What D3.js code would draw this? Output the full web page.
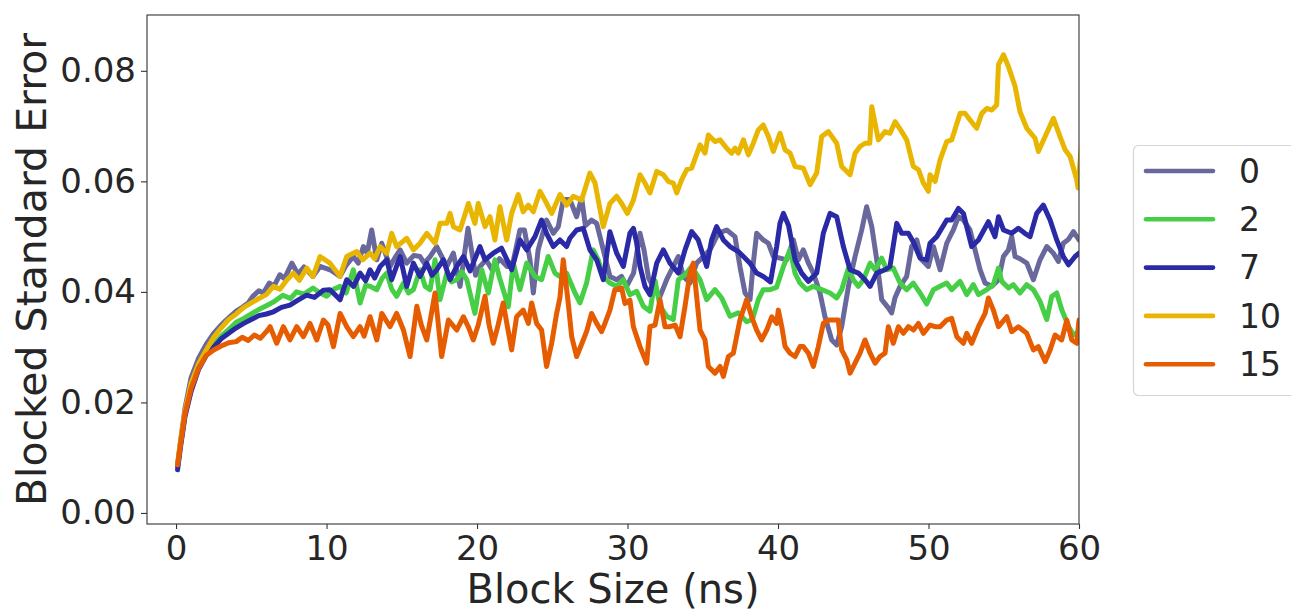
<!DOCTYPE html>
<html>
<head>
<meta charset="utf-8">
<script src="https://cdn.jsdelivr.net/npm/d3@7"></script>
<style>
  body { margin: 0; background: #fff; }
  svg text { font-family: "DejaVu Sans", sans-serif; fill: #262626; }
</style>
</head>
<body>
<svg width="1291" height="611"></svg>
<script>
// series labels and colours (legend order)
labels = ['0', '2', '7', '10', '15']
colors = ['#68689c', '#46cf46', '#2a2aa6', '#e8b500', '#e65c00']

xTicks = [0, 10, 20, 30, 40, 50, 60]
yTicks = [0, 0.02, 0.04, 0.06, 0.08]

// [block size (ns), blocked standard error]
err0 = [[0.1,0.0085],[0.3,0.013],[0.6,0.019],[1.0,0.0245],[1.5,0.028],[2.0,0.0305],[2.5,0.0325],[3.0,0.034],[3.3,0.0348],[3.7,0.0358],[4.0,0.0365],[4.4,0.0372],[4.8,0.038],[5.1,0.0392],[5.5,0.0402],[5.8,0.0398],[6.2,0.0416],[6.5,0.041],[6.9,0.0431],[7.2,0.0424],[7.7,0.0452],[8.1,0.0432],[8.5,0.0445],[9.1,0.0428],[9.57,0.0446],[10.23,0.044],[10.9,0.0428],[11.3,0.0448],[11.78,0.0464],[12.1,0.0452],[12.45,0.0482],[12.7,0.047],[13.0,0.0512],[13.34,0.0458],[13.67,0.0488],[14.22,0.0446],[14.55,0.0462],[14.89,0.0476],[15.33,0.0452],[15.8,0.0466],[16.21,0.0464],[16.5,0.0452],[16.88,0.0464],[17.32,0.0482],[17.99,0.0446],[18.43,0.047],[18.87,0.041],[19.4,0.0515],[19.9,0.043],[20.2,0.0446],[20.6,0.0458],[21.0,0.044],[21.5,0.046],[22.0,0.0446],[22.4,0.0455],[22.85,0.0512],[23.15,0.0512],[23.52,0.0458],[23.74,0.0398],[24.06,0.0476],[24.62,0.053],[25.07,0.0506],[25.4,0.0518],[25.73,0.0567],[26.17,0.0567],[26.62,0.0536],[26.95,0.057],[27.2,0.052],[27.61,0.053],[27.95,0.0524],[28.39,0.0476],[28.83,0.0428],[29.28,0.0422],[29.6,0.0428],[29.94,0.041],[30.4,0.0434],[30.83,0.0506],[31.1,0.0475],[31.4,0.0425],[31.71,0.0409],[32.16,0.0392],[32.6,0.0422],[33.04,0.0446],[33.38,0.0464],[33.71,0.0428],[34.15,0.0416],[34.59,0.0452],[35.04,0.0464],[35.48,0.0476],[36.03,0.0506],[36.59,0.0512],[37.14,0.05],[37.47,0.0446],[37.81,0.0398],[38.14,0.0386],[38.35,0.045],[38.58,0.0506],[39.02,0.0494],[39.36,0.0488],[39.69,0.0464],[40.13,0.0461],[40.58,0.0458],[41.02,0.0494],[41.35,0.0458],[41.68,0.0476],[42.02,0.0452],[42.35,0.0434],[42.79,0.0398],[43.12,0.0355],[43.57,0.0313],[43.9,0.0304],[44.23,0.0337],[44.68,0.041],[45.12,0.0464],[45.56,0.0512],[45.89,0.0554],[46.23,0.0518],[46.56,0.0458],[46.89,0.0386],[47.33,0.0371],[47.55,0.0362],[47.78,0.039],[48.11,0.041],[48.55,0.0428],[48.88,0.0482],[49.22,0.0494],[49.55,0.0458],[49.99,0.0446],[50.33,0.0482],[50.77,0.044],[51.21,0.0488],[51.65,0.0512],[51.99,0.0536],[52.32,0.053],[52.76,0.0512],[53.09,0.0476],[53.43,0.044],[53.76,0.0416],[54.2,0.041],[54.65,0.0422],[54.98,0.0464],[55.31,0.0476],[55.53,0.05],[55.75,0.0464],[56.08,0.046],[56.53,0.0452],[56.97,0.0422],[57.41,0.0458],[57.86,0.0482],[58.3,0.047],[58.63,0.0455],[58.96,0.0488],[59.3,0.0495],[59.63,0.0509],[60,0.0494]]

err2 = [[0.1,0.0085],[0.3,0.0125],[0.6,0.018],[1.0,0.023],[1.5,0.0265],[2.0,0.029],[2.5,0.0305],[3.0,0.032],[3.5,0.0332],[4.0,0.0345],[4.5,0.0352],[5.0,0.036],[5.5,0.0368],[6.0,0.0375],[6.5,0.0382],[7.1,0.0394],[7.6,0.0388],[8.0,0.04],[8.5,0.0396],[9.1,0.0407],[9.57,0.0398],[10.01,0.0392],[10.5,0.0405],[10.9,0.041],[11.3,0.0398],[11.78,0.044],[12.23,0.038],[12.6,0.0412],[12.89,0.041],[13.34,0.0404],[13.7,0.0425],[14.0,0.0434],[14.33,0.0405],[14.66,0.0392],[15.11,0.0416],[15.45,0.0398],[15.77,0.0404],[16.21,0.044],[16.55,0.041],[16.88,0.0404],[17.21,0.0458],[17.54,0.0386],[17.99,0.0434],[18.3,0.0418],[18.65,0.0422],[19.0,0.0436],[19.32,0.0422],[19.6,0.039],[19.86,0.0361],[20.31,0.044],[20.75,0.0398],[21.19,0.0458],[21.5,0.0425],[21.74,0.0404],[22.08,0.0373],[22.41,0.0452],[22.85,0.0404],[23.3,0.0452],[23.85,0.0428],[24.29,0.0422],[24.73,0.0464],[25.18,0.0434],[25.5,0.0428],[25.95,0.0434],[26.51,0.0398],[26.84,0.038],[27.28,0.0416],[27.72,0.0476],[28.05,0.0458],[28.39,0.0428],[28.83,0.0416],[29.28,0.041],[29.72,0.0422],[30.16,0.0395],[30.61,0.0401],[31.05,0.0374],[31.49,0.0365],[31.83,0.042],[32.16,0.0374],[32.6,0.0356],[33.04,0.035],[33.38,0.0422],[33.82,0.0431],[34.26,0.0446],[34.82,0.0422],[35.26,0.0386],[35.81,0.0404],[36.26,0.0389],[36.81,0.0356],[37.36,0.0362],[37.92,0.0346],[38.3,0.035],[38.69,0.0386],[39.02,0.0404],[39.47,0.0404],[39.9,0.0408],[40.36,0.0446],[40.8,0.0476],[41.13,0.0434],[41.46,0.0416],[41.91,0.0404],[42.35,0.041],[42.9,0.0404],[43.46,0.0398],[43.9,0.0389],[44.23,0.0404],[44.68,0.0443],[45.0,0.0422],[45.34,0.041],[45.67,0.0422],[46.12,0.0452],[46.45,0.044],[46.89,0.0461],[47.22,0.044],[47.66,0.0443],[48.11,0.0416],[48.55,0.0404],[48.99,0.0416],[49.44,0.0398],[49.88,0.0378],[50.33,0.0404],[50.77,0.041],[51.21,0.0416],[51.54,0.0404],[52.1,0.0419],[52.54,0.0395],[52.98,0.0413],[53.32,0.0395],[53.87,0.0404],[54.3,0.0413],[54.65,0.0443],[54.87,0.0419],[55.31,0.0407],[55.64,0.0413],[56.08,0.0398],[56.53,0.0413],[56.97,0.0404],[57.41,0.0383],[57.86,0.035],[58.19,0.0392],[58.52,0.0398],[58.85,0.0368],[59.3,0.0338],[59.63,0.0322],[60,0.0328]]

err7 = [[0.1,0.0078],[0.3,0.012],[0.6,0.0175],[1.0,0.022],[1.5,0.026],[2.0,0.0285],[2.5,0.03],[3.0,0.0315],[3.5,0.0325],[4.0,0.0335],[4.5,0.0343],[5.0,0.035],[5.5,0.0357],[6.0,0.036],[6.47,0.0364],[7.0,0.0372],[7.57,0.0376],[8.1,0.0385],[8.68,0.0394],[9.2,0.039],[9.79,0.0403],[10.23,0.0404],[10.9,0.0386],[11.34,0.0422],[11.8,0.041],[12.23,0.0434],[12.6,0.042],[12.89,0.044],[13.2,0.0425],[13.56,0.0446],[14.0,0.0458],[14.33,0.0422],[14.89,0.0464],[15.33,0.041],[15.77,0.0452],[16.21,0.0428],[16.66,0.0452],[17.0,0.043],[17.32,0.044],[17.76,0.0458],[18.21,0.0422],[18.65,0.0446],[19.1,0.0464],[19.54,0.0438],[20.19,0.0482],[20.53,0.0458],[21.08,0.047],[21.63,0.0479],[22.3,0.044],[22.85,0.0494],[23.3,0.0476],[23.85,0.05],[24.29,0.053],[24.62,0.0506],[25.07,0.0482],[25.51,0.0494],[25.95,0.0482],[26.17,0.0497],[26.62,0.0512],[27.06,0.0515],[27.5,0.0476],[27.95,0.0458],[28.39,0.0422],[28.83,0.0509],[29.28,0.047],[29.72,0.0446],[30.16,0.0506],[30.39,0.0515],[30.6,0.049],[30.83,0.0446],[31.16,0.041],[31.49,0.0395],[31.94,0.0452],[32.38,0.0476],[32.82,0.0452],[33.38,0.0434],[33.82,0.0476],[34.26,0.0509],[34.7,0.0494],[35.26,0.0446],[35.59,0.0494],[35.92,0.0518],[36.37,0.0494],[36.81,0.0482],[37.36,0.0473],[37.7,0.0464],[38.14,0.0452],[38.58,0.0434],[39.02,0.0428],[39.5,0.0418],[39.91,0.0482],[40.13,0.0524],[40.36,0.0542],[40.7,0.052],[41.13,0.0458],[41.57,0.0434],[42.02,0.0419],[42.57,0.0434],[43.01,0.0506],[43.46,0.0542],[43.9,0.0536],[44.34,0.0482],[44.79,0.044],[45.34,0.0434],[45.78,0.0422],[46.12,0.041],[46.56,0.0434],[47.11,0.044],[47.44,0.0446],[47.89,0.0524],[48.22,0.0506],[48.66,0.0506],[49.0,0.049],[49.44,0.0461],[49.88,0.0458],[50.1,0.0488],[50.55,0.05],[51.21,0.053],[51.54,0.053],[51.99,0.0551],[52.32,0.0542],[52.87,0.0482],[53.32,0.0494],[53.98,0.0527],[54.42,0.05],[54.65,0.0536],[54.98,0.0512],[55.53,0.0506],[55.97,0.0515],[56.4,0.0506],[56.75,0.05],[57.19,0.0542],[57.63,0.0557],[58.08,0.053],[58.52,0.0494],[58.96,0.0464],[59.3,0.0449],[59.74,0.0464],[60,0.047]]

err10 = [[0.1,0.0088],[0.3,0.013],[0.6,0.0185],[1.0,0.0235],[1.5,0.027],[2.0,0.0295],[2.5,0.0318],[3.0,0.0335],[3.5,0.035],[4.0,0.036],[4.5,0.0372],[5.0,0.038],[5.5,0.0388],[6.0,0.0395],[6.47,0.041],[6.9,0.0405],[7.35,0.0421],[7.8,0.0434],[8.2,0.0421],[8.68,0.0443],[9.1,0.0428],[9.57,0.0464],[10.23,0.0452],[10.9,0.0428],[11.34,0.0464],[12.0,0.0473],[12.4,0.0458],[12.89,0.047],[13.2,0.046],[13.56,0.0482],[14.0,0.047],[14.33,0.0506],[14.66,0.0482],[15.33,0.0497],[15.77,0.0476],[16.21,0.0488],[16.66,0.0506],[17.21,0.0488],[17.54,0.0524],[17.99,0.0524],[18.21,0.0542],[18.43,0.0518],[18.87,0.0512],[19.43,0.056],[19.86,0.0524],[20.08,0.056],[20.53,0.0518],[20.86,0.0536],[21.19,0.0494],[21.52,0.0554],[21.97,0.0494],[22.3,0.0542],[22.74,0.0576],[23.07,0.0545],[23.41,0.0557],[23.74,0.0545],[24.18,0.0582],[24.51,0.0566],[24.96,0.0542],[25.51,0.0576],[25.95,0.0557],[26.4,0.0573],[26.95,0.0566],[27.5,0.0615],[27.84,0.0597],[28.39,0.0518],[28.83,0.056],[29.28,0.0573],[29.61,0.056],[29.99,0.0542],[30.39,0.0566],[30.83,0.0612],[31.16,0.0597],[31.49,0.0579],[31.94,0.0618],[32.38,0.0612],[32.71,0.06],[33.04,0.0597],[33.27,0.0579],[33.6,0.0603],[33.93,0.0621],[34.26,0.0624],[34.82,0.0666],[35.15,0.0651],[35.37,0.0684],[35.81,0.0672],[36.15,0.0675],[36.59,0.066],[36.92,0.0651],[37.14,0.066],[37.36,0.0651],[37.7,0.0675],[38.03,0.0648],[38.36,0.0669],[38.69,0.0693],[39.02,0.0702],[39.36,0.0681],[39.69,0.0654],[40.13,0.0687],[40.47,0.0657],[40.8,0.0651],[41.13,0.0627],[41.68,0.0624],[42.13,0.0594],[42.57,0.0615],[42.9,0.0681],[43.35,0.069],[43.9,0.0669],[44.23,0.0627],[44.79,0.0612],[45.12,0.0651],[45.45,0.0663],[45.78,0.0669],[46.1,0.0669],[46.23,0.0735],[46.67,0.0675],[47.11,0.069],[47.44,0.0687],[47.78,0.0708],[48.22,0.069],[48.55,0.0675],[48.99,0.0627],[49.33,0.0621],[49.66,0.0597],[49.99,0.0582],[50.1,0.0612],[50.44,0.06],[50.77,0.0639],[51.21,0.0672],[51.54,0.0675],[52.1,0.0723],[52.43,0.0723],[52.76,0.0711],[53.2,0.0696],[53.54,0.0723],[53.87,0.0732],[54.2,0.0729],[54.53,0.0738],[54.65,0.0811],[54.98,0.0829],[55.31,0.0808],[55.75,0.0772],[56.08,0.0726],[56.53,0.0696],[57.08,0.0678],[57.3,0.0654],[57.75,0.0681],[58.3,0.0714],[58.74,0.0681],[59.08,0.0657],[59.41,0.0645],[59.85,0.0603],[59.93,0.0588],[60.2,0.068]]

err15 = [[0.1,0.0087],[0.3,0.0125],[0.6,0.018],[1.0,0.0225],[1.5,0.0262],[2.0,0.0285],[2.5,0.0295],[3.0,0.0302],[3.5,0.0308],[4.0,0.031],[4.4,0.0318],[4.8,0.0312],[5.2,0.0322],[5.6,0.0316],[6.0,0.0328],[6.25,0.0337],[6.69,0.0307],[7.13,0.0337],[7.57,0.0313],[8.02,0.0337],[8.46,0.0319],[8.9,0.0343],[9.35,0.0313],[9.79,0.0349],[10.1,0.034],[10.46,0.0301],[10.9,0.0361],[11.34,0.0337],[11.78,0.0319],[12.23,0.0337],[12.5,0.032],[12.89,0.0355],[13.34,0.0313],[13.67,0.0361],[14.22,0.0337],[14.66,0.0361],[15.11,0.0331],[15.55,0.0283],[16.0,0.0374],[16.3,0.034],[16.66,0.0313],[17.21,0.0398],[17.65,0.0283],[18.1,0.0349],[18.65,0.0331],[19.1,0.0355],[19.45,0.0335],[19.75,0.0313],[20.08,0.034],[20.53,0.0392],[20.8,0.034],[21.08,0.0307],[21.4,0.034],[21.74,0.038],[22.0,0.034],[22.3,0.0295],[22.63,0.0355],[23.07,0.0367],[23.41,0.0343],[23.63,0.038],[23.96,0.0343],[24.29,0.0331],[24.62,0.0265],[24.96,0.0307],[25.29,0.0361],[25.51,0.039],[25.73,0.0458],[26.06,0.038],[26.29,0.0319],[26.62,0.0283],[27.06,0.0313],[27.3,0.033],[27.61,0.0361],[27.95,0.0343],[28.28,0.0328],[28.5,0.0343],[28.83,0.0367],[29.16,0.0404],[29.61,0.0407],[29.83,0.0379],[30.16,0.0385],[30.39,0.0337],[30.83,0.0301],[31.27,0.0271],[31.49,0.0337],[31.83,0.034],[32.16,0.0386],[32.49,0.0337],[32.82,0.0337],[33.16,0.034],[33.49,0.0319],[33.82,0.0374],[34.15,0.0434],[34.37,0.0452],[34.59,0.0392],[34.82,0.0331],[35.15,0.0313],[35.37,0.0265],[35.81,0.0253],[36.15,0.0265],[36.37,0.0247],[36.7,0.0283],[37.03,0.0289],[37.47,0.0349],[37.92,0.0386],[38.25,0.0355],[38.58,0.0331],[38.91,0.0313],[39.25,0.0331],[39.58,0.0355],[39.91,0.0343],[40.02,0.0367],[40.25,0.0337],[40.47,0.0301],[40.8,0.0289],[41.13,0.0283],[41.46,0.0301],[41.68,0.0301],[42.02,0.0289],[42.35,0.0265],[42.68,0.0301],[43.01,0.0343],[43.35,0.0349],[43.79,0.0349],[44.0,0.0349],[44.23,0.0295],[44.57,0.0277],[44.79,0.0253],[45.12,0.0271],[45.45,0.0289],[45.78,0.0313],[46.12,0.0289],[46.45,0.0271],[46.78,0.0283],[47.11,0.0289],[47.33,0.0337],[47.66,0.0307],[48.0,0.0337],[48.33,0.0325],[48.66,0.0337],[49.0,0.0331],[49.33,0.0343],[49.66,0.0325],[50.1,0.034],[50.44,0.0337],[50.77,0.0337],[51.21,0.0349],[51.54,0.0352],[51.88,0.0319],[52.32,0.0307],[52.54,0.0325],[52.87,0.0307],[53.32,0.0337],[53.76,0.0361],[53.98,0.0389],[54.31,0.0367],[54.65,0.0337],[55.2,0.0355],[55.53,0.0328],[55.97,0.0337],[56.53,0.0325],[56.97,0.0295],[57.3,0.0301],[57.75,0.0274],[58.08,0.0295],[58.41,0.0322],[58.85,0.0313],[59.19,0.0349],[59.52,0.0313],[59.85,0.0307],[60,0.0349]]

allSeries = [err0, err2, err7, err10, err15]

let svg = d3.select('svg')
let plotL = 147, plotR = 1079, plotT = 15, plotB = 524

let x = d3.scaleLinear().domain([-1.93, 60]).range([plotL, plotR])
let y = d3.scaleLinear().domain([-0.002, 0.0901]).range([plotB, plotT])

svg.append('clipPath').attr('id', 'plot-clip')
    .append('rect')
    .attr('x', plotL).attr('y', plotT)
    .attr('width', plotR - plotL).attr('height', plotB - plotT)

let line = d3.line().x(d => x(d[0])).y(d => y(d[1]))

let lines = svg.append('g').attr('clip-path', 'url(#plot-clip)')
allSeries.forEach((s, i) => {
    lines.append('path')
        .attr('d', line(s))
        .attr('fill', 'none')
        .attr('stroke', colors[i])
        .attr('stroke-width', 5)
        .attr('stroke-linejoin', 'round')
        .attr('stroke-linecap', 'round')
})

// axes
let xAxis = svg.append('g')
    .attr('transform', `translate(0,${plotB})`)
    .call(d3.axisBottom(x).tickValues(xTicks).tickSize(5).tickSizeOuter(0).tickPadding(7).tickFormat(d3.format('d')))
let yAxis = svg.append('g')
    .attr('transform', `translate(${plotL},0)`)
    .call(d3.axisLeft(y).tickValues(yTicks).tickSize(6).tickSizeOuter(0).tickPadding(5).tickFormat(d3.format('.2f')))

;[xAxis, yAxis].forEach(a => {
    a.select('.domain').remove()
    a.selectAll('.tick line').attr('stroke', '#333').attr('stroke-width', 1.1)
    a.selectAll('.tick text')
        .attr('font-family', '"DejaVu Sans", sans-serif')
        .attr('font-size', 34)
        .attr('fill', '#262626')
})

// frame
svg.append('rect')
    .attr('x', plotL).attr('y', plotT)
    .attr('width', plotR - plotL).attr('height', plotB - plotT)
    .attr('fill', 'none')
    .attr('stroke', '#333')
    .attr('stroke-width', 1.1)

svg.append('text')
    .attr('x', (plotL + plotR) / 2)
    .attr('y', 603)
    .attr('text-anchor', 'middle')
    .attr('font-size', 40)
    .text('Block Size (ns)')

svg.append('text')
    .attr('transform', `translate(46,${(plotT + plotB) / 2}) rotate(-90)`)
    .attr('text-anchor', 'middle')
    .attr('font-size', 41)
    .text('Blocked Standard Error')

// legend
let lg = svg.append('g')
lg.append('rect')
    .attr('x', 1133.5).attr('y', 145.5)
    .attr('width', 200).attr('height', 250)
    .attr('rx', 5)
    .attr('fill', '#fff')
    .attr('stroke', '#d6d6d6')
    .attr('stroke-width', 1.2)

labels.forEach((lab, i) => {
    let ly = 171 + i * 48.3
    lg.append('line')
        .attr('x1', 1146).attr('x2', 1213)
        .attr('y1', ly).attr('y2', ly)
        .attr('stroke', colors[i])
        .attr('stroke-width', 4.6)
        .attr('stroke-linecap', 'round')
    lg.append('text')
        .attr('x', 1239)
        .attr('y', ly)
        .attr('dy', '0.36em')
        .attr('font-size', 33)
        .text(lab)
})
</script>
</body>
</html>
